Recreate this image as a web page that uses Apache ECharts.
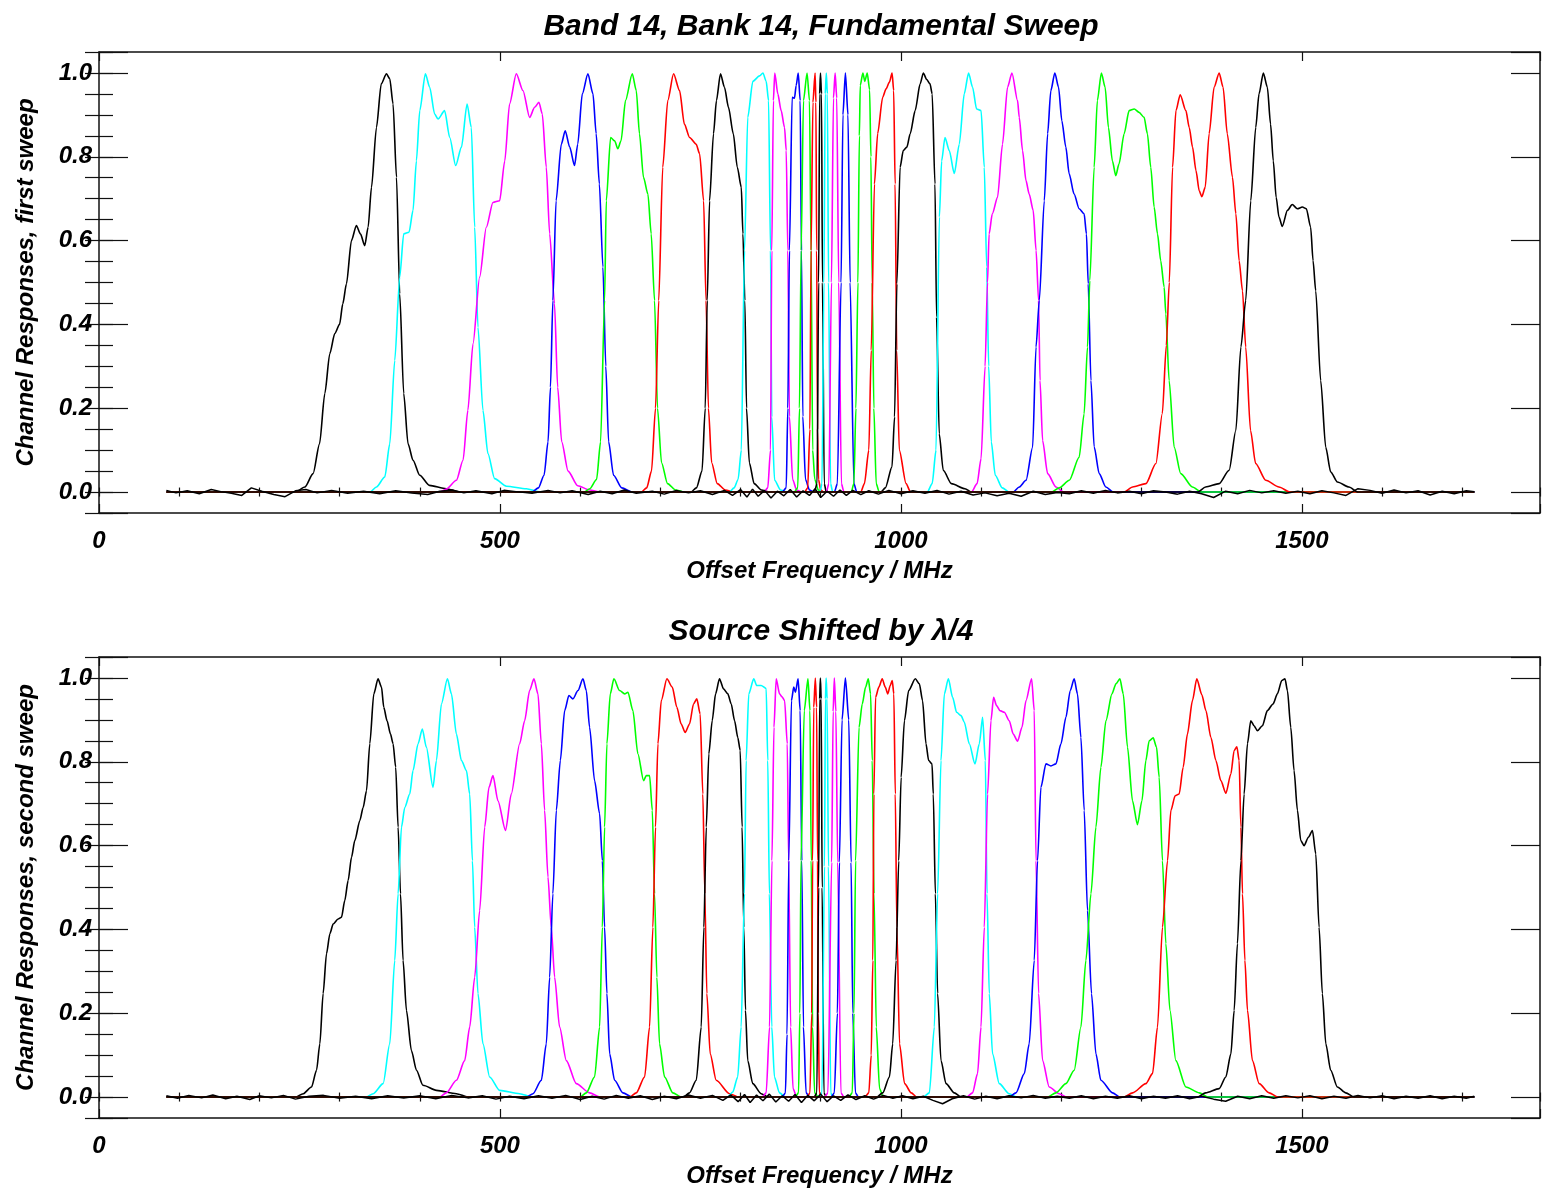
<!DOCTYPE html>
<html>
<head>
<meta charset="utf-8">
<script src="https://cdn.jsdelivr.net/npm/echarts@6/dist/echarts.min.js"></script>
<style>
html,body{margin:0;padding:0;background:#fff;}
#chart{width:1543px;height:1194px;}
</style>
</head>
<body>
<div id="chart"></div>
<script>
// ---------- Data (Offset Frequency MHz, response) ----------
const xTickLabels = ['0', '500', '1000', '1500'];
const yTickLabels = ['0.0', '0.2', '0.4', '0.6', '0.8', '1.0'];
const channelColors = ['#000000', '#00ffff', '#ff00ff', '#0000ff', '#00ff00', '#ff0000'];
const titleTop = 'Band 14, Bank 14, Fundamental Sweep';
const titleBottom = 'Source Shifted by \u03bb/4';
const yNameTop = 'Channel Responses, first sweep';
const yNameBottom = 'Channel Responses, second sweep';
const xName = 'Offset Frequency / MHz';

// First sweep
const t01 = [[84,0],[245,0],[256.7,0.012],[267,0.044],[275,0.115],[281.6,0.235],[287.8,0.33],[294,0.378],[300,0.40],[304,0.449],[308.6,0.497],[314.8,0.60],[321,0.636],[326,0.616],[331.4,0.588],[335.6,0.632],[339.8,0.727],[346,0.87],[352,0.974],[358.5,0.998],[362.6,0.986],[366.7,0.926],[371,0.751],[375,0.473],[380,0.235],[385.4,0.115],[391.6,0.076],[400,0.04],[412,0.016],[433,0.008],[450,0],[1715,0]];
const t02 = [[84,0],[338,0],[346,0.012],[356.4,0.036],[362.6,0.115],[368.8,0.314],[375,0.513],[380,0.616],[386.6,0.62],[391.6,0.672],[395.8,0.79],[400,0.91],[407,0.998],[412.4,0.966],[418.6,0.902],[422.8,0.89],[431,0.91],[437.4,0.846],[444.8,0.779],[452,0.823],[459,0.926],[464.3,0.87],[468.5,0.632],[472.6,0.393],[478.8,0.195],[485,0.092],[493.4,0.032],[508,0.014],[533,0.008],[550,0],[1715,0]];
const t03 = [[84,0],[425,0],[433,0.007],[445.7,0.028],[454,0.076],[460,0.195],[466.4,0.354],[474.7,0.513],[483,0.632],[491.3,0.691],[499.6,0.695],[506,0.79],[512,0.926],[520.4,0.998],[528.7,0.958],[537,0.894],[543.3,0.918],[548.6,0.93],[552.8,0.902],[557.8,0.775],[562,0.616],[568,0.45],[572,0.25],[577,0.12],[585,0.05],[597,0.015],[612,0.005],[625,0],[1715,0]];
const t04 = [[84,0],[540,0],[548,0.01],[555,0.04],[560,0.12],[563,0.25],[566,0.457],[570,0.695],[576.5,0.83],[581.4,0.862],[587,0.823],[593,0.779],[597,0.83],[602.7,0.95],[609.7,0.998],[616,0.95],[620,0.855],[624,0.735],[628.4,0.537],[632,0.3],[635.5,0.12],[641.7,0.04],[652,0.01],[665,0],[1715,0]];
const t05 = [[84,0],[605,0],[612,0.008],[620.5,0.03],[625.5,0.12],[630.5,0.457],[632.6,0.695],[638,0.846],[643,0.838],[647,0.819],[651,0.838],[656.6,0.934],[665,0.998],[670,0.958],[674,0.855],[679,0.751],[684.5,0.711],[688.6,0.616],[692.8,0.457],[696.5,0.2],[701.5,0.07],[709,0.02],[719,0.005],[730,0],[1715,0]];
const t06 = [[84,0],[676,0],[683,0.01],[689,0.05],[694,0.2],[698,0.457],[703,0.775],[709.3,0.934],[716.5,0.998],[724,0.958],[730,0.878],[736.5,0.846],[744.7,0.83],[749,0.807],[754,0.695],[757,0.457],[760,0.2],[764,0.07],[771,0.02],[781,0.005],[792,0],[1715,0]];
const t07 = [[84,0],[738,0],[745,0.01],[752,0.05],[756,0.2],[758.5,0.457],[761.4,0.695],[766.3,0.855],[770,0.934],[775,0.998],[780,0.966],[785,0.918],[791,0.855],[796,0.775],[801,0.727],[803,0.616],[805.4,0.457],[807.5,0.2],[811,0.07],[817,0.02],[826,0.005],[836,0],[1715,0]];
const t08 = [[84,0],[786,0],[792,0.01],[797,0.03],[801,0.1],[805,0.576],[809,0.894],[815.4,0.98],[823.7,0.993],[828,1.0],[832,0.98],[835,0.934],[837.4,0.576],[839,0.179],[842.5,0.028],[850,0.005],[858,0],[1715,0]];
const t09 = [[84,0],[829,0],[834,0.01],[837.4,0.1],[839,0.576],[841,0.934],[842.7,1.0],[846.5,0.95],[850.7,0.91],[854.9,0.87],[857,0.815],[859,0.576],[861,0.18],[865,0.03],[870,0.005],[876,0],[1715,0]];
const t10 = [[84,0],[852,0],[857,0.01],[859,0.2],[861,0.576],[864.4,0.942],[867.3,0.94],[869.4,0.97],[872,1.0],[874.4,0.934],[876,0.576],[877.7,0.18],[881,0.03],[886,0.005],[891,0],[1715,0]];
const t11 = [[84,0],[867,0],[871.4,0.01],[873.5,0.2],[875.6,0.576],[878.5,0.934],[883,1.0],[886,0.934],[888,0.576],[890,0.1],[892.6,0.03],[897,0.005],[902,0],[1715,0]];
const t12 = [[84,0],[880,0],[883.8,0.01],[886.5,0.15],[888,0.576],[890.3,0.93],[893,1.0],[894,0.93],[895,0.576],[896,0.15],[897.3,0.03],[900,0.005],[904,0],[1715,0]];
const t13 = [[84,0],[892,0],[895.5,0.02],[897.4,0.5],[898.7,0.95],[899.7,1.0],[901,0.95],[902.2,0.5],[904.4,0.02],[907,0],[1715,0]];
const t14 = [[84,0],[899,0],[901.6,0.02],[904,0.5],[905.6,0.95],[907,1.0],[908.3,0.95],[909.8,0.5],[912.3,0.02],[915,0],[1715,0]];
const t15 = [[84,0],[907,0],[910.2,0.02],[913.4,0.5],[915.9,0.94],[918,1.0],[920,0.94],[922.5,0.5],[925.8,0.02],[929,0],[1715,0]];
const t16 = [[84,0],[917,0],[920.8,0.02],[925.4,0.5],[927.7,0.9],[930.8,1.0],[934,0.9],[936.7,0.5],[941.4,0.02],[945,0],[1715,0]];
const t17 = [[84,0],[938,0],[941.4,0.02],[943.9,0.2],[946.4,0.5],[948.2,0.85],[949.3,0.97],[952.6,1.0],[955,0.98],[958,1.0],[961,0.96],[962.6,0.8],[964.2,0.5],[966.3,0.2],[969.2,0.02],[973,0],[1715,0]];
const t18 = [[84,0],[950,0],[954.5,0.02],[960,0.1],[963,0.338],[967,0.735],[971,0.855],[977.3,0.942],[981.5,0.962],[985.7,0.978],[989,1.0],[991,0.958],[992.8,0.735],[994.8,0.338],[998,0.1],[1006.5,0.02],[1012,0],[1715,0]];
const t19 = [[84,0],[975,0],[980.6,0.01],[988.9,0.06],[992.1,0.179],[995,0.497],[999,0.775],[1003,0.815],[1007.5,0.823],[1011.6,0.855],[1017.8,0.91],[1024,0.974],[1028,1.0],[1032,0.985],[1036.3,0.974],[1039,0.95],[1042.5,0.735],[1044.5,0.417],[1047.8,0.139],[1052.8,0.052],[1063,0.02],[1080,0.008],[1088,0],[1715,0]];
const t20 = [[84,0],[1033,0],[1039,0.02],[1043.8,0.1],[1048,0.656],[1050.8,0.79],[1055,0.846],[1060.3,0.815],[1066.6,0.76],[1072.8,0.83],[1079,0.95],[1084.4,1.0],[1089.4,0.966],[1094.4,0.914],[1100,0.91],[1104,0.775],[1107,0.537],[1109.5,0.3],[1112.7,0.12],[1117.7,0.04],[1126.4,0.01],[1135,0],[1715,0]];
const t21 = [[84,0],[1088,0],[1095,0.02],[1100,0.08],[1105,0.3],[1108,0.5],[1110,0.616],[1114,0.664],[1120.5,0.703],[1126.7,0.83],[1133,0.966],[1138.5,1.0],[1145.5,0.934],[1147.6,0.894],[1151.7,0.815],[1156,0.743],[1160,0.711],[1165,0.672],[1168.6,0.576],[1171.7,0.457],[1173.5,0.266],[1176.7,0.123],[1183,0.044],[1193.5,0.012],[1203,0],[1715,0]];
const t22 = [[84,0],[1140,0],[1147.6,0.012],[1156,0.028],[1164.3,0.107],[1168.5,0.346],[1172.6,0.457],[1178.8,0.695],[1183,0.855],[1187,0.958],[1192,1.0],[1196.6,0.966],[1200.7,0.886],[1205.7,0.823],[1209.8,0.76],[1216,0.711],[1222.3,0.676],[1228.5,0.664],[1231.4,0.616],[1233.6,0.497],[1237,0.266],[1241,0.108],[1247.3,0.044],[1255.6,0.012],[1265,0],[1715,0]];
const t23 = [[84,0],[1188,0],[1197.4,0.01],[1210,0.028],[1222.3,0.083],[1228.5,0.187],[1232.7,0.346],[1235.6,0.505],[1241,0.775],[1245,0.934],[1250,1.0],[1254.7,0.966],[1258.8,0.87],[1263.8,0.79],[1268,0.755],[1272,0.783],[1278.4,0.855],[1284.6,0.91],[1291,0.914],[1297,0.906],[1303.3,0.894],[1307.4,0.855],[1311.6,0.775],[1315.8,0.68],[1320,0.616],[1324,0.552],[1328.3,0.489],[1330.4,0.425],[1334.5,0.266],[1340.8,0.107],[1349,0.044],[1363.5,0.012],[1375,0],[1715,0]];
const t24 = [[84,0],[1278,0],[1289,0.012],[1305.5,0.02],[1318,0.068],[1326,0.187],[1331,0.35],[1334.7,0.5],[1338.8,0.775],[1343,0.91],[1348.3,0.948],[1355.4,0.91],[1359.6,0.87],[1363.7,0.823],[1368,0.767],[1372,0.719],[1375.3,0.705],[1379.5,0.727],[1384.4,0.855],[1390.6,0.966],[1396.9,1.0],[1401.8,0.966],[1407,0.855],[1413.5,0.751],[1417.7,0.664],[1421.8,0.552],[1426,0.48],[1430,0.346],[1436,0.147],[1442.4,0.068],[1455,0.028],[1471.5,0.012],[1485,0],[1715,0]];
const t25 = [[84,0],[1370,0],[1380,0.012],[1396.9,0.02],[1409.3,0.052],[1417.7,0.147],[1424,0.346],[1430,0.457],[1436.3,0.695],[1442.5,0.87],[1446.6,0.95],[1452,1.0],[1457,0.966],[1461,0.878],[1464.4,0.79],[1468,0.703],[1471.5,0.656],[1475.6,0.634],[1482,0.672],[1488,0.686],[1494.4,0.676],[1500.6,0.68],[1505.6,0.676],[1511,0.632],[1514,0.552],[1517.3,0.48],[1523.5,0.266],[1529.8,0.107],[1536,0.048],[1544.3,0.024],[1558.8,0.012],[1570,0],[1715,0]];
const noiseTop = [[84,0.004],[96,-0.002],[110,0.003],[125,-0.004],[140,0.006],[152,0.001],[165,-0.003],[178,-0.008],[190,0.01],[203,0.002],[218,-0.006],[232,-0.011],[245,0.003],[258,0.006],[272,-0.002],[290,0.004],[310,-0.003],[330,0.002],[350,-0.004],[370,0.003],[390,-0.002],[410,-0.006],[425,0.002],[440,0.005],[455,-0.002],[470,0.003],[490,-0.004],[505,0.004],[520,0.001],[540,-0.003],[560,0.004],[575,-0.002],[590,0.003],[610,-0.006],[625,0.002],[640,-0.004],[655,0.005],[670,-0.003],[690,0.002],[705,-0.005],[720,0.004],[735,-0.002],[750,0.003],[765,-0.006],[780,0.004],[790,-0.008],[800,0.006],[808,-0.012],[815,0.007],[822,-0.01],[830,0.004],[838,-0.014],[846,0.002],[854,-0.009],[862,0.006],[870,-0.012],[878,0.003],[886,-0.008],[893,0.008],[900,-0.013],[908,0.002],[916,-0.01],[924,0.005],[932,-0.008],[940,0.004],[950,-0.006],[960,0.003],[972,-0.005],[985,0.004],[1000,-0.004],[1015,0.003],[1030,-0.003],[1045,0.004],[1060,-0.005],[1075,0.002],[1090,-0.007],[1105,-0.002],[1120,-0.009],[1135,-0.003],[1150,-0.01],[1165,0.002],[1180,-0.006],[1195,-0.001],[1210,-0.004],[1225,0.003],[1240,-0.003],[1255,0.004],[1270,-0.002],[1285,0.002],[1300,-0.004],[1315,0.003],[1330,0.0],[1345,-0.005],[1360,0.002],[1375,-0.004],[1390,-0.013],[1405,0.002],[1420,-0.004],[1435,0.004],[1450,-0.002],[1465,0.003],[1480,-0.003],[1495,0.002],[1510,-0.004],[1525,0.003],[1540,-0.002],[1555,-0.008],[1570,0.008],[1585,0.004],[1600,-0.003],[1615,0.005],[1630,-0.002],[1645,0.003],[1660,-0.007],[1675,0.002],[1690,-0.004],[1705,0.003],[1715,0.001]];

// Second sweep
const b01 = [[84,0],[245,0],[254.6,0.008],[265,0.024],[271.3,0.064],[275.4,0.127],[279.5,0.247],[283.7,0.342],[288,0.39],[292,0.413],[298.2,0.425],[302.4,0.429],[306.5,0.469],[310.7,0.517],[314.9,0.572],[319,0.612],[325.3,0.66],[329.4,0.691],[333.6,0.731],[337.7,0.843],[342.7,0.962],[348,0.998],[352.3,0.978],[355.1,0.93],[359.2,0.898],[363.5,0.866],[366.7,0.843],[370,0.787],[373,0.644],[376,0.485],[379.2,0.326],[383.4,0.207],[389.6,0.111],[395.9,0.064],[404,0.028],[420.8,0.016],[445.7,0.008],[460,0],[1715,0]];
const b02 = [[84,0],[333,0],[341.8,0.008],[354.3,0.032],[362.6,0.127],[368.8,0.326],[373,0.485],[377.2,0.644],[381.3,0.691],[387.5,0.723],[391.6,0.779],[397.9,0.843],[403.2,0.878],[408.2,0.835],[416.5,0.739],[420.8,0.803],[427,0.938],[434.5,0.998],[439.5,0.962],[445.7,0.866],[452,0.803],[458.2,0.779],[462.3,0.723],[465.7,0.564],[468.5,0.405],[472.6,0.247],[478.8,0.127],[487.2,0.048],[499.6,0.016],[524.6,0.008],[540,0],[1715,0]];
const b03 = [[84,0],[425,0],[433,0.01],[445.7,0.04],[456,0.087],[462.3,0.167],[468.5,0.286],[474.7,0.445],[481,0.644],[486.3,0.739],[491.3,0.767],[497.5,0.707],[507,0.636],[514.1,0.723],[524.6,0.843],[530.8,0.898],[537,0.97],[542.4,0.998],[547.4,0.962],[551.6,0.843],[555.7,0.684],[559.9,0.525],[564,0.405],[568.2,0.286],[574.4,0.167],[582.8,0.087],[595.2,0.032],[611.8,0.01],[625,0],[1715,0]];
const b04 = [[84,0],[533,0],[541.2,0.008],[551.6,0.04],[557.8,0.127],[562,0.286],[566,0.485],[570.3,0.684],[575.3,0.803],[580.7,0.922],[586,0.958],[591,0.95],[597.3,0.97],[603.5,0.998],[607.7,0.97],[611.8,0.882],[618,0.755],[624.3,0.676],[627.7,0.564],[630.5,0.405],[633.4,0.247],[636.8,0.103],[643,0.04],[653.4,0.01],[665,0],[1715,0]];
const b05 = [[84,0],[600,0],[607.7,0.01],[618,0.048],[624.3,0.167],[627.7,0.405],[630.5,0.644],[633.4,0.843],[637.6,0.962],[642.1,0.998],[649.2,0.97],[655.5,0.962],[659.6,0.966],[665.8,0.922],[672,0.819],[679.1,0.755],[682.5,0.767],[686.6,0.767],[690,0.684],[692.8,0.485],[695.7,0.286],[699,0.127],[705.3,0.048],[715.6,0.01],[726,0],[1715,0]];
const b06 = [[84,0],[662,0],[670,0.01],[680.4,0.048],[686.6,0.167],[690.7,0.405],[694,0.644],[697,0.843],[701.2,0.946],[708.2,0.998],[714.9,0.978],[720.6,0.93],[726,0.89],[731,0.87],[736.4,0.89],[741.4,0.938],[745.5,0.95],[749.7,0.914],[753,0.723],[755.5,0.485],[758,0.247],[762.2,0.103],[769.7,0.04],[786.3,0.008],[798,0],[1715,0]];
const b07 = [[84,0],[729,0],[736.4,0.01],[744.8,0.04],[751,0.167],[754.3,0.405],[757.3,0.644],[760.5,0.819],[764.7,0.898],[768.9,0.962],[773.8,0.998],[778.8,0.974],[784.2,0.962],[788.4,0.938],[792.6,0.898],[796.6,0.858],[799.6,0.827],[802,0.644],[804.1,0.405],[806.2,0.207],[809,0.087],[815.3,0.032],[825.7,0.008],[835,0],[1715,0]];
const b08 = [[84,0],[784,0],[790.3,0.012],[796.5,0.048],[800.8,0.167],[804.9,0.485],[807,0.803],[810.3,0.962],[816.5,0.998],[820.3,0.982],[825.7,0.982],[832,0.975],[834,0.803],[836,0.485],[839,0.167],[842.3,0.048],[848.6,0.01],[856,0],[1715,0]];
const b09 = [[84,0],[827,0],[832,0.01],[836.2,0.167],[839.2,0.564],[841.7,0.882],[844.5,0.998],[848.7,0.962],[851.7,0.955],[855,0.946],[858.3,0.843],[860,0.564],[862.5,0.167],[865.5,0.02],[870,0],[1715,0]];
const b10 = [[84,0],[852,0],[856,0.01],[858,0.15],[860.2,0.564],[863.5,0.946],[866.4,0.978],[868.5,0.966],[871.8,0.998],[874.4,0.922],[876.4,0.564],[878.5,0.167],[881.8,0.01],[886,0],[1715,0]];
const b11 = [[84,0],[868,0],[872.4,0.01],[874,0.2],[875.4,0.564],[879.5,0.922],[884.1,0.998],[886.6,0.922],[888.2,0.564],[889.9,0.167],[892.4,0.01],[897,0],[1715,0]];
const b12 = [[84,0],[883,0],[886.6,0.01],[888.8,0.2],[889.9,0.564],[891.3,0.93],[893.3,1.0],[894.9,0.93],[896.1,0.564],[897,0.2],[898.3,0.01],[902,0],[1715,0]];
const b13 = [[84,0],[892,0],[895.2,0.01],[897.4,0.5],[898.7,0.95],[899.6,1.0],[900.6,0.95],[901.8,0.5],[904,0.01],[907,0],[1715,0]];
const b14 = [[84,0],[899,0],[901.6,0.01],[904.7,0.55],[905.9,0.95],[906.8,1.0],[908,0.95],[909.7,0.55],[912.5,0.01],[915,0],[1715,0]];
const b15 = [[84,0],[905,0],[909,0.01],[913.7,0.56],[915.5,0.92],[917,1.0],[918.9,0.92],[921.2,0.56],[925.2,0.01],[929,0],[1715,0]];
const b16 = [[84,0],[913,0],[917,0.01],[920.8,0.2],[923.3,0.56],[926.6,0.9],[930.8,1.0],[935,0.9],[937.9,0.56],[940,0.2],[943.3,0.01],[947,0],[1715,0]];
const b17 = [[84,0],[935,0],[939.4,0.01],[941.5,0.2],[943.5,0.564],[947.8,0.882],[951.8,0.938],[956,0.978],[959.3,0.998],[962.2,0.962],[964.3,0.803],[966.5,0.485],[969.3,0.167],[973.4,0.02],[978,0],[1715,0]];
const b18 = [[84,0],[955,0],[960,0.01],[963,0.1],[965,0.326],[966.3,0.723],[968.4,0.954],[972.5,0.978],[976.7,0.998],[980.5,0.978],[983.7,0.962],[986.7,0.982],[989.2,0.994],[991.2,0.962],[993,0.723],[995,0.405],[998.3,0.127],[1004.6,0.032],[1012.9,0.01],[1020,0],[1715,0]];
const b19 = [[84,0],[970,0],[977.3,0.01],[985.7,0.048],[989.8,0.127],[994,0.326],[997.3,0.564],[1000.3,0.763],[1004.4,0.898],[1009.7,0.97],[1018,0.998],[1023,0.986],[1027,0.946],[1031.3,0.843],[1034.6,0.803],[1038.8,0.795],[1040.4,0.723],[1043,0.485],[1045.8,0.247],[1050,0.087],[1056.3,0.032],[1066.6,0.01],[1075,0],[1715,0]];
const b20 = [[84,0],[1028,0],[1035.5,0.01],[1041.7,0.167],[1045.8,0.485],[1050,0.803],[1054.2,0.962],[1059.2,0.998],[1064.5,0.954],[1069.5,0.918],[1075,0.91],[1079,0.895],[1085.3,0.843],[1092.4,0.795],[1097.8,0.843],[1101.9,0.906],[1105.3,0.803],[1107.4,0.485],[1110.2,0.247],[1114.3,0.103],[1122.7,0.032],[1135.1,0.008],[1145,0],[1715,0]];
const b21 = [[84,0],[1082,0],[1089.4,0.01],[1095.6,0.056],[1099.9,0.167],[1104,0.405],[1108.1,0.723],[1112.3,0.898],[1115.6,0.954],[1119.3,0.934],[1123.6,0.922],[1129,0.918],[1135.1,0.898],[1140.1,0.866],[1145.5,0.849],[1151,0.882],[1156,0.946],[1163,0.998],[1166.3,0.922],[1168.5,0.564],[1171.7,0.247],[1176.7,0.087],[1185,0.024],[1197.4,0.008],[1207,0],[1715,0]];
const b22 = [[84,0],[1135,0],[1143.5,0.01],[1153.9,0.056],[1160,0.127],[1166.3,0.326],[1170.4,0.564],[1174.6,0.739],[1180.9,0.795],[1187.1,0.79],[1193.3,0.795],[1199.6,0.843],[1205.8,0.906],[1211.2,0.97],[1216.1,0.998],[1220.2,0.962],[1224.5,0.858],[1228.6,0.684],[1232.7,0.445],[1237.7,0.247],[1243.2,0.103],[1249.4,0.04],[1263.9,0.01],[1273,0],[1715,0]];
const b23 = [[84,0],[1183,0],[1193.3,0.01],[1205.8,0.032],[1216.1,0.064],[1224.5,0.167],[1230.7,0.326],[1237,0.485],[1243.2,0.644],[1249.4,0.787],[1255.7,0.898],[1263.2,0.962],[1268.2,0.986],[1273.1,0.998],[1277.3,0.962],[1282.6,0.835],[1288.8,0.707],[1295,0.65],[1300.6,0.707],[1305.5,0.803],[1309.6,0.85],[1314.6,0.857],[1318.8,0.835],[1322.1,0.763],[1326.2,0.564],[1330.4,0.366],[1335.5,0.207],[1342.9,0.087],[1355.4,0.024],[1372,0.01],[1383,0],[1715,0]];
const b24 = [[84,0],[1278,0],[1289,0.01],[1305.5,0.032],[1313.8,0.056],[1320,0.167],[1326.2,0.405],[1332.5,0.564],[1336.7,0.684],[1342,0.719],[1347,0.723],[1352,0.787],[1357.3,0.866],[1363.6,0.946],[1369,0.998],[1375.3,0.96],[1380.4,0.922],[1386.6,0.858],[1392.8,0.803],[1399,0.755],[1405.3,0.725],[1411.5,0.771],[1415.6,0.827],[1419,0.836],[1421.8,0.803],[1424,0.644],[1426,0.485],[1429,0.326],[1432.2,0.207],[1438.4,0.087],[1446.8,0.032],[1459.2,0.01],[1470,0],[1715,0]];
const b25 = [[84,0],[1370,0],[1380,0.01],[1396.9,0.02],[1405.2,0.048],[1411.5,0.103],[1415.6,0.207],[1419.7,0.366],[1424,0.564],[1428,0.723],[1432.2,0.843],[1436.3,0.898],[1440.4,0.886],[1444.6,0.874],[1450.8,0.886],[1457,0.922],[1464.1,0.938],[1469.5,0.962],[1475,0.994],[1479,0.998],[1482,0.97],[1486.2,0.882],[1490.3,0.779],[1494.5,0.684],[1498.7,0.612],[1502.8,0.6],[1508.2,0.62],[1513.2,0.636],[1517.4,0.58],[1521.5,0.405],[1525.6,0.247],[1529.9,0.127],[1536,0.064],[1544.3,0.024],[1554.8,0.01],[1565,0],[1715,0]];
const noiseBottom = [[84,0.003],[98,-0.003],[112,0.004],[128,-0.002],[142,0.005],[158,-0.004],[172,0.002],[188,-0.006],[200,0.003],[215,-0.002],[230,0.004],[245,-0.005],[262,0.002],[280,0.004],[300,-0.003],[320,0.002],[340,-0.004],[360,0.003],[380,-0.002],[400,0.003],[420,-0.004],[440,0.004],[460,-0.002],[478,0.003],[495,-0.005],[512,0.002],[530,-0.004],[548,0.003],[565,-0.003],[582,0.004],[600,-0.006],[615,0.002],[630,-0.005],[645,0.004],[660,-0.003],[675,0.003],[690,-0.006],[705,0.002],[720,-0.004],[735,0.005],[750,-0.003],[765,0.004],[778,-0.008],[788,0.005],[797,-0.011],[805,0.006],[812,-0.013],[820,0.005],[828,-0.009],[836,0.007],[844,-0.012],[852,0.003],[860,-0.01],[868,0.006],[876,-0.013],[884,0.004],[892,-0.009],[900,0.007],[908,-0.011],[916,0.003],[925,-0.008],[934,0.005],[944,-0.006],[955,0.003],[966,-0.005],[978,0.004],[990,-0.003],[1002,0.003],[1015,-0.004],[1028,0.002],[1040,-0.008],[1052,-0.016],[1064,-0.004],[1078,0.003],[1092,-0.005],[1106,0.002],[1120,-0.004],[1135,0.003],[1150,-0.002],[1165,0.004],[1180,-0.003],[1195,0.002],[1210,-0.003],[1225,0.003],[1240,-0.004],[1255,0.002],[1270,-0.003],[1285,0.003],[1300,-0.004],[1315,0.002],[1330,-0.003],[1345,0.003],[1360,-0.004],[1375,0.002],[1390,-0.005],[1405,-0.01],[1420,0.002],[1435,-0.004],[1450,0.003],[1465,-0.003],[1480,0.003],[1495,-0.002],[1510,0.003],[1525,-0.004],[1540,0.002],[1555,-0.003],[1570,0.004],[1585,-0.002],[1600,0.003],[1615,-0.004],[1630,0.002],[1645,-0.003],[1660,0.003],[1675,-0.004],[1690,0.002],[1705,-0.003],[1715,0.002]];

const firstSweep = [t01,t02,t03,t04,t05,t06,t07,t08,t09,t10,t11,t12,t13,t14,t15,t16,t17,t18,t19,t20,t21,t22,t23,t24,t25];
const secondSweep = [b01,b02,b03,b04,b05,b06,b07,b08,b09,b10,b11,b12,b13,b14,b15,b16,b17,b18,b19,b20,b21,b22,b23,b24,b25];

// ---------- Styling / layout ----------
const FONT = "'Liberation Sans', Arial, Helvetica, sans-serif";
const AX = '#111';
const X_MAX = 1797;
const gridTops = [52, 657];
const txt = (size) => ({fontFamily: FONT, fontSize: size, fontWeight: 'bold', fontStyle: 'italic', color: '#000'});

function xAxesFor(g) {
  const common = {gridIndex: g, type: 'value', min: 0, max: X_MAX, splitLine: {show: false}};
  return [
    Object.assign({}, common, {
      position: 'bottom', interval: 500,
      axisLine: {show: true, onZero: false, lineStyle: {color: AX, width: 1.5}},
      axisTick: {show: true, inside: true, length: 9, lineStyle: {color: AX, width: 1.2}},
      axisLabel: Object.assign({show: true, margin: 16,
        formatter: v => xTickLabels.indexOf(String(v)) >= 0 ? String(v) : ''}, txt(24)),
      name: xName, nameLocation: 'middle', nameGap: 46, nameTextStyle: txt(24)
    }),
    Object.assign({}, common, {
      position: 'bottom', interval: 100,
      axisLine: {show: false},
      axisTick: {show: true, inside: true, length: 4.5, lineStyle: {color: AX, width: 1.2}},
      axisLabel: {show: false}
    }),
    Object.assign({}, common, {
      position: 'top', interval: 500,
      axisLine: {show: true, onZero: false, lineStyle: {color: AX, width: 1.5}},
      axisTick: {show: true, inside: true, length: 9, lineStyle: {color: AX, width: 1.2}},
      axisLabel: {show: false}
    }),
    Object.assign({}, common, {
      position: 'top', interval: 100,
      axisLine: {show: false},
      axisTick: {show: true, inside: true, length: 4.5, lineStyle: {color: AX, width: 1.2}},
      axisLabel: {show: false}
    })
  ];
}

function yLabel(v) {
  const s = (Math.round(v * 10) / 10).toFixed(1);
  return (Math.abs(v * 5 - Math.round(v * 5)) < 1e-6 && yTickLabels.indexOf(s) >= 0) ? s : '';
}

function yAxesFor(g, name) {
  const common = {gridIndex: g, type: 'value', min: -0.05, max: 1.05, splitLine: {show: false}};
  return [
    Object.assign({}, common, {
      position: 'left', splitNumber: 5, minInterval: 0.2, maxInterval: 0.2,
      axisLine: {show: true, onZero: false, lineStyle: {color: AX, width: 1.5}},
      axisTick: {show: true, inside: true, length: 29, lineStyle: {color: AX, width: 1.2}},
      axisLabel: Object.assign({show: true, margin: 7, formatter: yLabel}, txt(24)),
      name: name, nameLocation: 'middle', nameGap: 61, nameTextStyle: txt(24)
    }),
    Object.assign({}, common, {
      position: 'left', interval: 0.05,
      axisLine: {show: false},
      axisTick: {show: true, inside: true, length: 14, lineStyle: {color: AX, width: 1.2}},
      axisLabel: {show: false}
    }),
    Object.assign({}, common, {
      position: 'right', splitNumber: 5, minInterval: 0.2, maxInterval: 0.2,
      axisLine: {show: true, onZero: false, lineStyle: {color: AX, width: 1.5}},
      axisTick: {show: true, inside: true, length: 29, lineStyle: {color: AX, width: 1.2}},
      axisLabel: {show: false}
    }),
    Object.assign({}, common, {
      position: 'right', interval: 0.05,
      axisLine: {show: false},
      axisTick: {show: true, inside: true, length: 14, lineStyle: {color: AX, width: 1.2}},
      axisLabel: {show: false}
    })
  ];
}

function seriesFor(sweep, noise, g) {
  const s = sweep.map((d, i) => ({
    type: 'line', xAxisIndex: g * 4, yAxisIndex: g * 4, data: d,
    showSymbol: false, symbol: 'none', silent: true, clip: true,
    smooth: 0.25, smoothMonotone: 'x',
    lineStyle: {color: channelColors[i % channelColors.length], width: 1.6},
    itemStyle: {color: channelColors[i % channelColors.length]}
  }));
  s.push({
    type: 'line', xAxisIndex: g * 4, yAxisIndex: g * 4, data: noise,
    showSymbol: false, symbol: 'none', silent: true, clip: true,
    lineStyle: {color: channelColors[0], width: 1.5},
    itemStyle: {color: channelColors[0]}
  });
  return s;
}

const chart = echarts.init(document.getElementById('chart'), null, {renderer: 'canvas'});
chart.setOption({
  animation: false,
  backgroundColor: '#ffffff',
  title: [
    {text: titleTop, left: 821, top: 12, textAlign: 'center', padding: 0, textStyle: txt(30)},
    {text: titleBottom, left: 821, top: 617, textAlign: 'center', padding: 0, textStyle: txt(30)}
  ],
  grid: gridTops.map(t => ({left: 99, top: t, width: 1442, height: 461, containLabel: false})),
  xAxis: xAxesFor(0).concat(xAxesFor(1)),
  yAxis: yAxesFor(0, yNameTop).concat(yAxesFor(1, yNameBottom)),
  series: seriesFor(firstSweep, noiseTop, 0).concat(seriesFor(secondSweep, noiseBottom, 1))
});
</script>
</body>
</html>
